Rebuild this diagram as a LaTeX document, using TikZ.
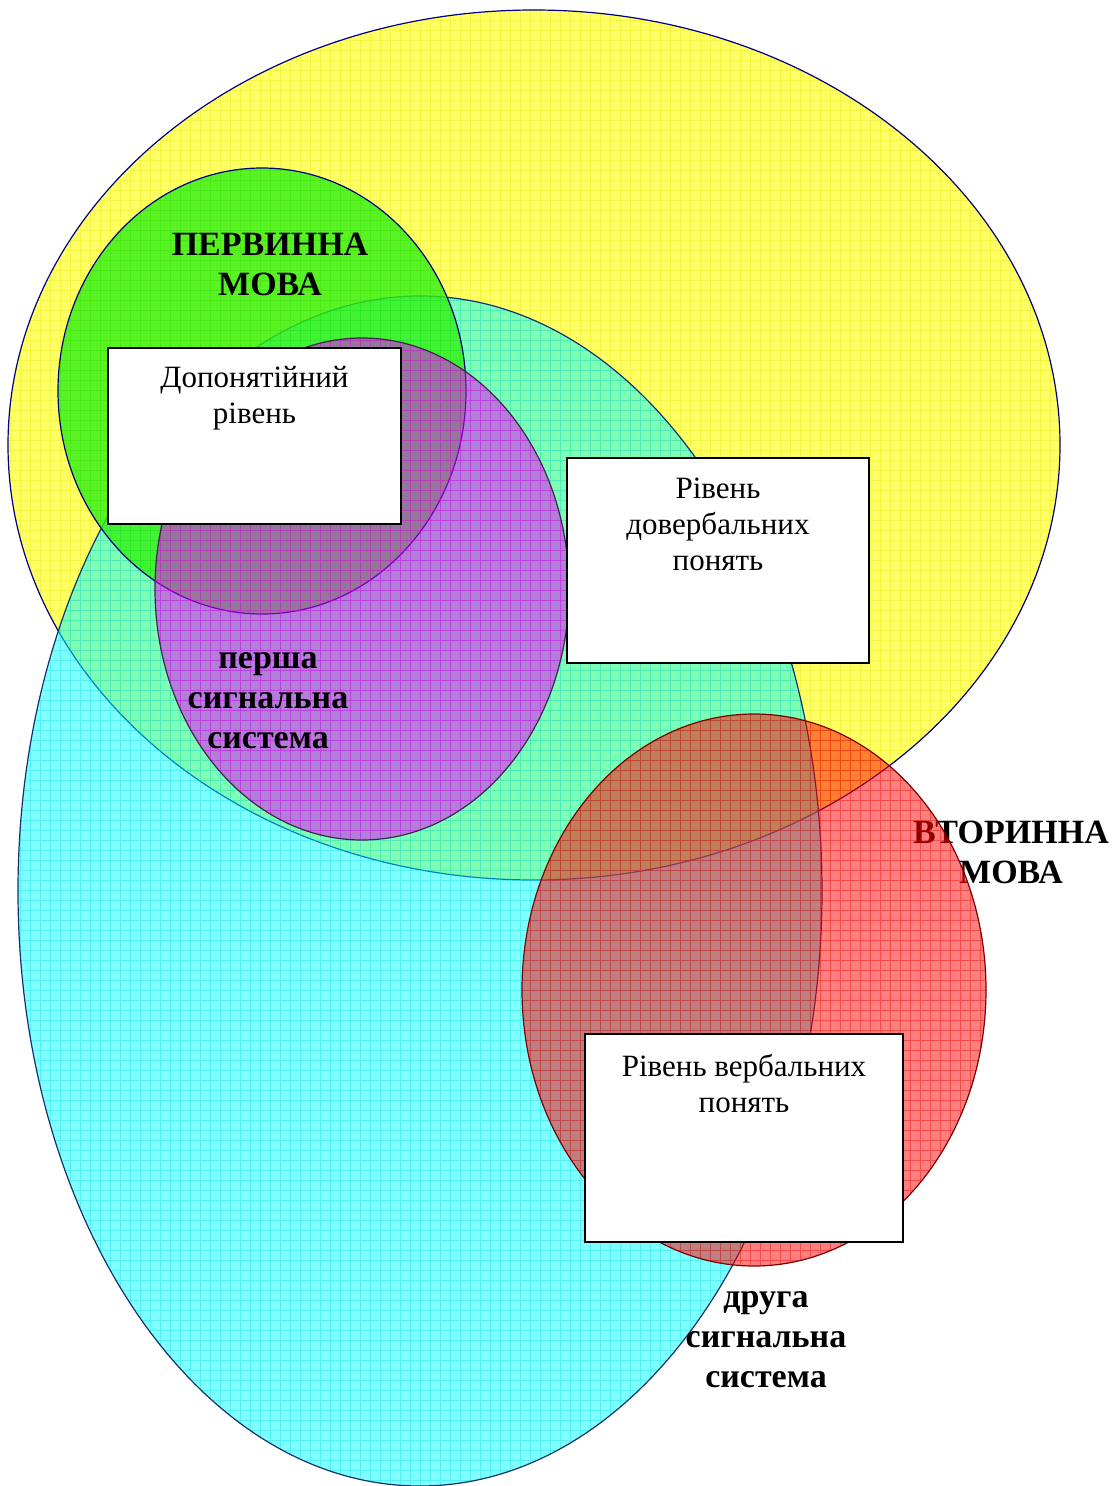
\documentclass[tikz,border=0pt]{standalone}
\usepackage{fontspec}
\setmainfont{Liberation Serif}
\definecolor{yelF}{RGB}{255,255,0}
\definecolor{yelG}{RGB}{225,225,0}
\definecolor{grnF}{RGB}{50,240,20}
\definecolor{grnG}{RGB}{20,210,10}
\definecolor{cyaF}{RGB}{0,255,255}
\definecolor{cyaG}{RGB}{0,215,225}
\definecolor{purF}{RGB}{230,0,255}
\definecolor{purG}{RGB}{235,0,230}
\definecolor{redF}{RGB}{255,0,0}
\definecolor{redG}{RGB}{230,0,0}
\definecolor{navyline}{RGB}{0,0,128}
\definecolor{cyanline}{RGB}{20,50,110}
\definecolor{purline}{RGB}{60,40,70}
\definecolor{redline}{RGB}{128,0,0}
\begin{document}
\begin{tikzpicture}[x=1pt,y=-1pt,
  vennline/.style={line width=1.2pt},
  gridst/.style={step=10pt, line width=0.6pt},
  boxst/.style={draw=black, line width=2.5pt, fill=white, inner sep=0pt, outer sep=0pt, anchor=north west},
  boxtext/.style={align=center, inner sep=0pt, anchor=north, font=\fontsize{31}{36}\selectfont},
  lbl/.style={align=center, inner sep=0pt, anchor=north, font=\fontsize{34}{40}\selectfont\bfseries}]
\useasboundingbox (0,0) rectangle (1116,1486);

% yellow ellipse
\fill[yelF, fill opacity=0.6] (534,445) ellipse [x radius=526pt, y radius=435pt];
\begin{scope}
\clip (534,445) ellipse [x radius=526pt, y radius=435pt];
\draw[gridst, yelG, opacity=0.35] (0,0) grid (1116,890);
\end{scope}
\draw[vennline, navyline] (534,445) ellipse [x radius=526pt, y radius=435pt];

% cyan ellipse
\fill[cyaF, fill opacity=0.5] (420,891) ellipse [x radius=402pt, y radius=595pt];
\begin{scope}
\clip (420,891) ellipse [x radius=402pt, y radius=595pt];
\draw[gridst, cyaG, opacity=0.35] (0,290) grid (830,1486);
\end{scope}
\draw[vennline, cyanline] (420,891) ellipse [x radius=402pt, y radius=595pt];

% green circle
\fill[grnF, fill opacity=0.8] (262,391) ellipse [x radius=204pt, y radius=223pt];
\begin{scope}
\clip (262,391) ellipse [x radius=204pt, y radius=223pt];
\draw[gridst, grnG, opacity=0.25] (50,160) grid (480,620);
\end{scope}
\draw[vennline, navyline] (262,391) ellipse [x radius=204pt, y radius=223pt];

% purple ellipse
\fill[purF, fill opacity=0.5] (362,589) ellipse [x radius=207pt, y radius=251pt];
\begin{scope}
\clip (362,589) ellipse [x radius=207pt, y radius=251pt];
\draw[gridst, purG, opacity=0.45] (150,330) grid (580,850);
\end{scope}
\draw[vennline, purline] (362,589) ellipse [x radius=207pt, y radius=251pt];

% bold labels
\node[lbl] (pervynna) at (270,227) {\strut ПЕРВИННА\\МОВА};
\node[lbl] (persha) at (268,640) {\strut перша\\сигнальна\\система};
\node[lbl] (vtorynna) at (1011,815) {\strut ВТОРИННА\\МОВА};
\node[lbl] (druha) at (766,1279) {\strut друга\\сигнальна\\система};

% red ellipse
\fill[redF, fill opacity=0.5] (754,990) ellipse [x radius=232pt, y radius=276pt];
\begin{scope}
\clip (754,990) ellipse [x radius=232pt, y radius=276pt];
\draw[gridst, redG, opacity=0.4] (520,710) grid (990,1270);
\end{scope}
\draw[vennline, redline] (754,990) ellipse [x radius=232pt, y radius=276pt];

% boxes
\node[boxst, minimum width=293pt, minimum height=176pt] (b1) at (108,348) {};
\node[boxst, minimum width=302pt, minimum height=205pt] (b2) at (567,458) {};
\node[boxst, minimum width=318pt, minimum height=208pt] (b3) at (585,1034) {};
\node[boxtext] (t1) at (254.5,361.8) {\strut Допонятійний\\рівень};
\node[boxtext] (t2) at (718,472.8) {\strut Рівень\\довербальних\\понять};
\node[boxtext] (t3) at (744,1050.8) {\strut Рівень вербальних\\понять};
\end{tikzpicture}
\end{document}
